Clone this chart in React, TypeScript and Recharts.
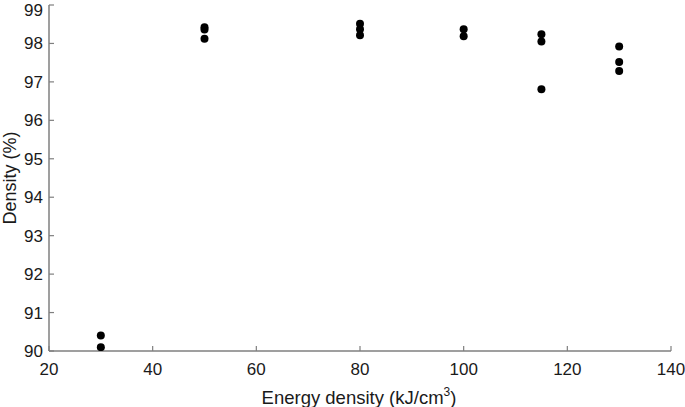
import React from 'react';
import { ScatterChart, Scatter, XAxis, YAxis, Label } from 'recharts';

const energy = [30, 30, 50, 50, 50, 80, 80, 80, 100, 100, 115, 115, 115, 130, 130, 130];
const density = [90.4, 90.1, 98.42, 98.36, 98.12, 98.51, 98.37, 98.21, 98.37, 98.19, 98.24, 98.05, 96.81, 97.92, 97.52, 97.28];
const xTicks = [20, 40, 60, 80, 100, 120, 140];
const yTicks = [90, 91, 92, 93, 94, 95, 96, 97, 98, 99];

const data = energy.map((e, i) => ({ e, d: density[i] }));

const FONT = 'Liberation Sans, Arial, sans-serif';
const AXIS = '#7f7f7f';
const tickStyle = { fontSize: 17, fill: '#1a1a1a', fontFamily: FONT };

const Dot = (props: any) => <circle cx={props.cx} cy={props.cy} r={4} fill="#000" />;
const NoTick = () => <g />;

const XLabel = (props: any) => {
  const vb = props.viewBox;
  return (
    <text x={vb.x + vb.width / 2 - 1} y={404} textAnchor="middle" fontSize={18.5} fontFamily={FONT} fill="#1a1a1a">
      Energy density (kJ/cm<tspan dy={-8} fontSize={12}>3</tspan><tspan dy={8}>)</tspan>
    </text>
  );
};

const YLabel = (props: any) => {
  const vb = props.viewBox;
  const cy = vb.y + vb.height / 2;
  return (
    <text x={16} y={cy} transform={`rotate(-90 16 ${cy})`} textAnchor="middle" fontSize={18} fontFamily={FONT} fill="#1a1a1a">
      Density (%)
    </text>
  );
};

export default function App() {
  return (
    <div style={{ position: 'absolute', left: 0, top: 0, background: '#fff' }}>
      <ScatterChart width={685} height={407} margin={{ top: 5, right: 14, left: 0, bottom: 0 }}>
        <XAxis
          xAxisId="b"
          type="number"
          dataKey="e"
          domain={[20, 140]}
          ticks={xTicks}
          height={56}
          tickSize={-5}
          tickMargin={17}
          tick={tickStyle}
          axisLine={{ stroke: AXIS, strokeWidth: 1.5 }}
          tickLine={{ stroke: AXIS, strokeWidth: 1.2 }}
          allowDataOverflow
        >
          <Label content={XLabel} />
        </XAxis>
        <XAxis
          xAxisId="t"
          orientation="top"
          type="number"
          domain={[20, 140]}
          ticks={xTicks}
          height={0}
          tickSize={-5}
          tick={NoTick}
          axisLine={{ stroke: AXIS, strokeWidth: 1.5 }}
          tickLine={{ stroke: AXIS, strokeWidth: 1.2 }}
        />
        <YAxis
          yAxisId="l"
          type="number"
          dataKey="d"
          domain={[90, 99]}
          ticks={yTicks}
          width={49}
          tickSize={-5}
          tickMargin={11}
          tick={tickStyle}
          axisLine={{ stroke: AXIS, strokeWidth: 1.5 }}
          tickLine={{ stroke: AXIS, strokeWidth: 1.2 }}
          allowDataOverflow
        >
          <Label content={YLabel} />
        </YAxis>
        <YAxis
          yAxisId="r"
          orientation="right"
          type="number"
          domain={[90, 99]}
          ticks={yTicks}
          width={0}
          tickSize={-5}
          tick={NoTick}
          axisLine={{ stroke: AXIS, strokeWidth: 1.5 }}
          tickLine={{ stroke: AXIS, strokeWidth: 1.2 }}
        />
        <Scatter data={data} xAxisId="b" yAxisId="l" shape={Dot} isAnimationActive={false} />
      </ScatterChart>
    </div>
  );
}
